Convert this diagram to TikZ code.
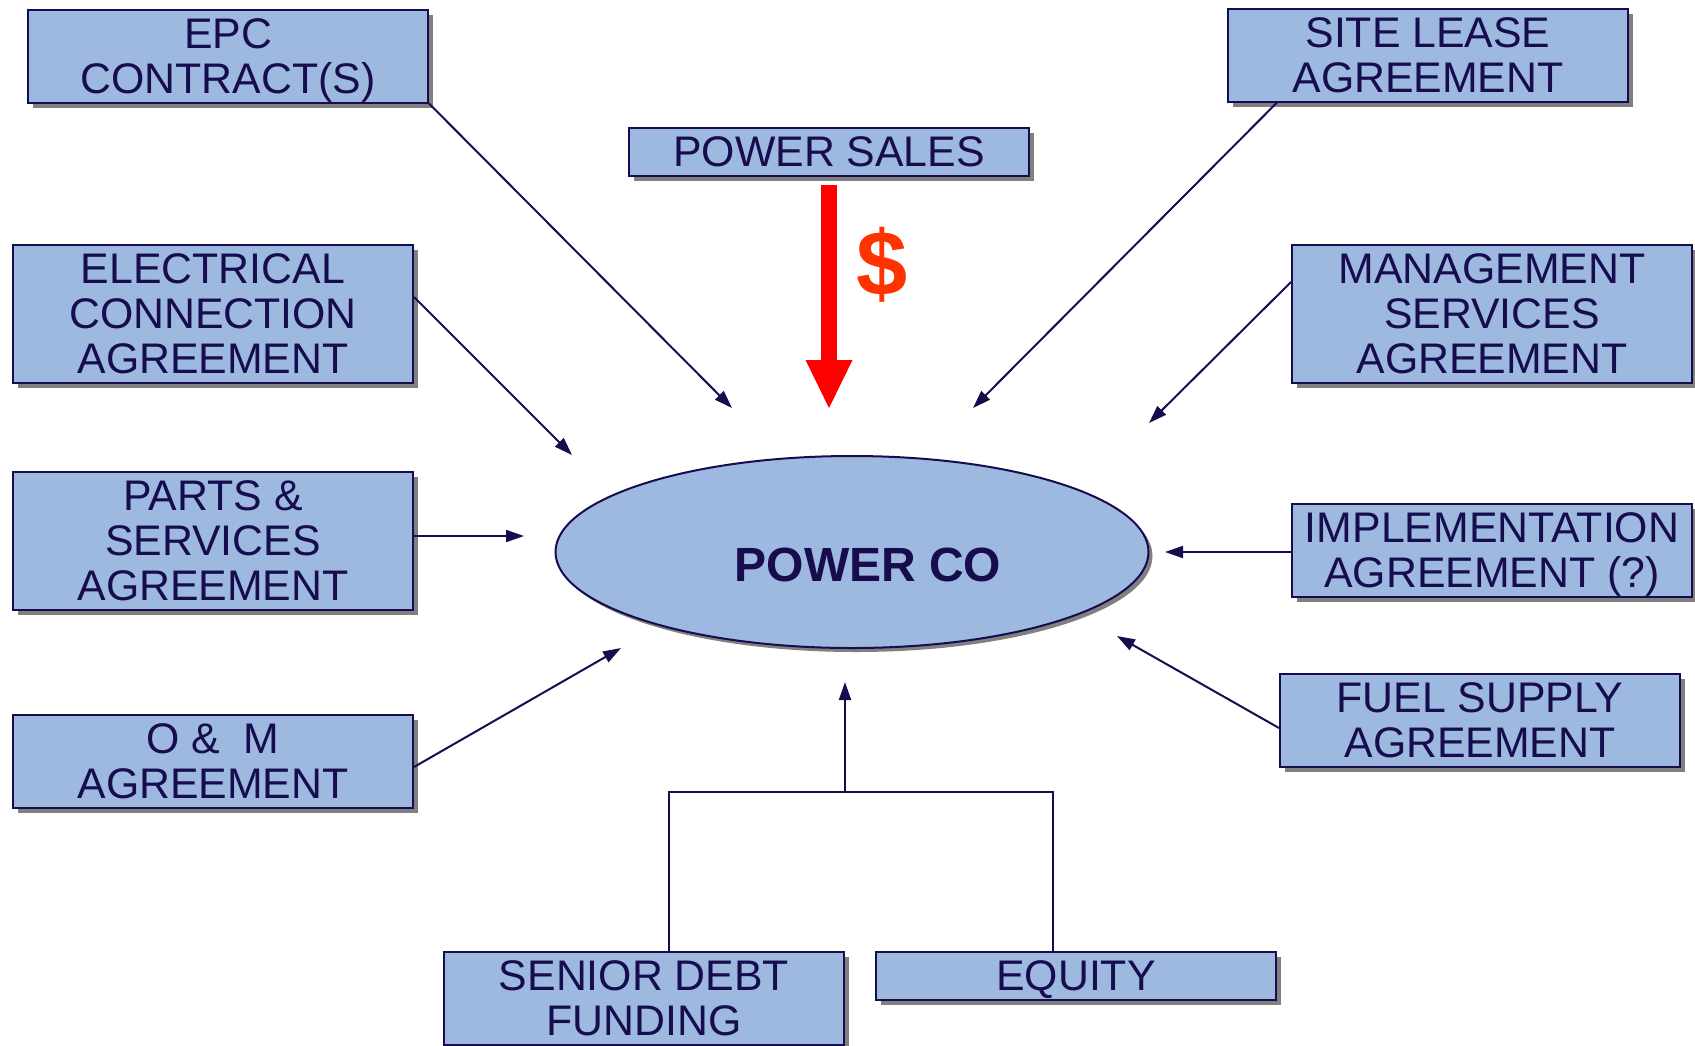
\documentclass[tikz,border=0pt]{standalone}
\usepackage{fontspec}
\setmainfont{Liberation Sans}
\usepackage{tikz}
\usetikzlibrary{arrows.meta, shadows, shapes.geometric}

\definecolor{boxblue}{RGB}{157,185,223}
\definecolor{navy}{RGB}{22,12,78}
\definecolor{dollarred}{RGB}{255,51,0}

\tikzset{
  contract/.style = {draw = navy, line width = 1pt, fill = boxblue, text = navy, minimum width = 200pt, minimum height = 46.5pt, inner sep = 0pt, text depth = 0pt, align = center, font = \fontsize{21.4}{22.5}\selectfont, drop shadow = {shadow xshift = 2.5pt, shadow yshift = -2.5pt, fill = black!50, opacity = 1}},
  link/.style = {draw = navy, line width = 1pt, -{Triangle[length = 9pt, width = 6pt]}}
}

\begin{document}
\begin{tikzpicture}[x = 0.5pt, y = -0.5pt]
\useasboundingbox (0,0) rectangle (1695,1045);

\node[contract] (epc) at (228,56) {EPC\\CONTRACT(S)};
\node[contract] (site) at (1428,55) {SITE LEASE\\AGREEMENT};
\node[contract, minimum height = 24pt] (sales) at (829,152) {POWER SALES};
\node[contract, minimum height = 69pt] (elec) at (213,314) {ELECTRICAL\\CONNECTION\\AGREEMENT};
\node[contract, minimum height = 69pt] (mgmt) at (1492,314) {MANAGEMENT\\SERVICES\\AGREEMENT};
\node[contract, minimum height = 69pt] (parts) at (213,541) {PARTS \&\\SERVICES\\AGREEMENT};
\node[contract] (impl) at (1492,550) {IMPLEMENTATION\\AGREEMENT (?)};
\node[contract] (om) at (213,761) {O \&\ \ M\\AGREEMENT};
\node[contract] (fuel) at (1480,720) {FUEL SUPPLY\\AGREEMENT};
\node[contract] (senior) at (644,998) {SENIOR DEBT\\FUNDING};
\node[contract, minimum height = 24pt] (equity) at (1076,976) {EQUITY};

\node[ellipse, draw = navy, line width = 1pt, fill = boxblue, minimum width = 296.5pt, minimum height = 96pt, drop shadow = {shadow xshift = 2pt, shadow yshift = -2pt, fill = black!50, opacity = 1}] (pc) at (852,552) {};
\node[text = navy, font = \fontsize{24}{28}\selectfont\bfseries] (pctext) at (868,565) {POWER CO};
\node[text = dollarred, font = \fontsize{46}{50}\selectfont\bfseries] (dollar) at (882,265) {\$};

\coordinate (salesend) at (829,408);
\coordinate (epcend) at (732,408);
\coordinate (elecend) at (572,455);
\coordinate (partsend) at (524,536);
\coordinate (omend) at (621,648);
\coordinate (siteend) at (973,408);
\coordinate (mgmtend) at (1149,423);
\coordinate (implend) at (1165,552);
\coordinate (fuelend) at (1117,636);
\coordinate (fundjoin) at (845,792);
\coordinate (fundend) at (845,682);

\draw[red, line width = 8pt, -{Triangle[length = 24pt, width = 23.5pt, line width = 0pt]}] ([yshift = -4pt]sales.south) -- (salesend);

\draw[link] (epc.south east) -- (epcend);
\draw[link] ([yshift = 8.5pt]elec.east) -- (elecend);
\draw[link] ([yshift = 2.5pt]parts.east) -- (partsend);
\draw[link] ([yshift = -3pt]om.east) -- (omend);
\draw[link] ([xshift = -75.5pt]site.south) -- (siteend);
\draw[link] ([yshift = 16pt]mgmt.west) -- (mgmtend);
\draw[link] ([yshift = -1pt]impl.west) -- (implend);
\draw[link] ([yshift = -4pt]fuel.west) -- (fuelend);

\draw[navy, line width = 1pt] ([xshift = 12.5pt]senior.north) |- (fundjoin) -| ([xshift = -11.5pt]equity.north);
\draw[link] (fundjoin) -- (fundend);
\end{tikzpicture}
\end{document}
